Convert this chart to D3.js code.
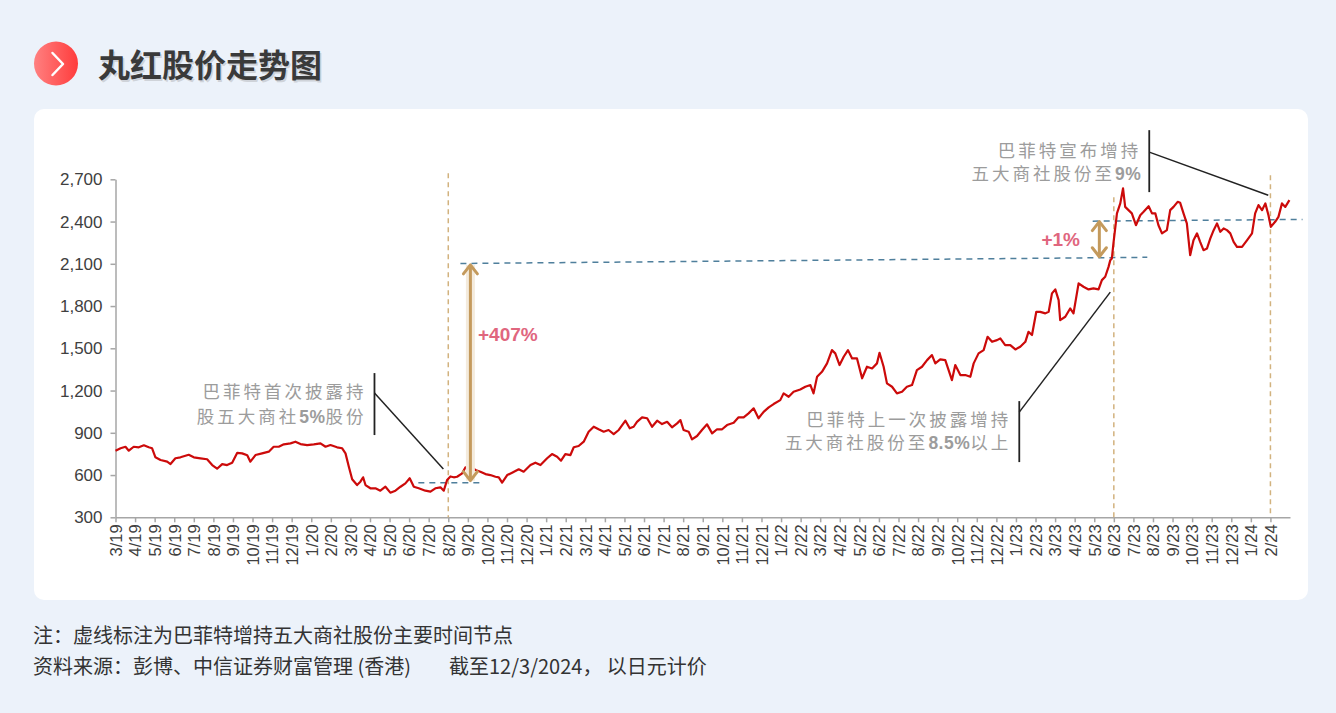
<!DOCTYPE html>
<html>
<head>
<meta charset="utf-8">
<script src="https://cdn.jsdelivr.net/npm/d3@7"></script>
<style>
  html, body { margin: 0; padding: 0; background: #ECF2FA; }
  svg { display: block; }
</style>
</head>
<body>
<svg id="chart" width="1336" height="713"></svg>
<script>
// month labels on the x axis (3/19 ... 2/24)
var monthLabels = ["3/19","4/19","5/19","6/19","7/19","8/19","9/19","10/19","11/19","12/19",
  "1/20","2/20","3/20","4/20","5/20","6/20","7/20","8/20","9/20","10/20","11/20","12/20",
  "1/21","2/21","3/21","4/21","5/21","6/21","7/21","8/21","9/21","10/21","11/21","12/21",
  "1/22","2/22","3/22","4/22","5/22","6/22","7/22","8/22","9/22","10/22","11/22","12/22",
  "1/23","2/23","3/23","4/23","5/23","6/23","7/23","8/23","9/23","10/23","11/23","12/23",
  "1/24","2/24"];

var yTicks = [300, 600, 900, 1200, 1500, 1800, 2100, 2400, 2700];

// months since 3/19
var monthPos = [0.00,0.26,0.51,0.68,0.93,1.19,1.45,1.70,1.87,2.04,2.30,2.64,2.81,3.06,3.32,3.74,4.00,4.34,4.68,4.94,
  5.19,5.45,5.70,5.96,6.22,6.47,6.73,6.89,7.15,7.49,7.83,8.08,8.34,8.60,8.94,9.19,9.45,9.79,10.13,10.47,
  10.73,10.98,11.32,11.58,11.75,11.92,12.09,12.34,12.51,12.65,12.77,13.02,13.28,13.53,13.79,14.04,14.30,14.56,14.81,15.03,
  15.24,15.49,15.83,16.09,16.34,16.60,16.77,16.94,17.11,17.28,17.45,17.71,17.88,18.13,18.39,18.64,18.90,19.15,19.41,19.58,
  19.75,20.01,20.26,20.60,20.85,21.20,21.45,21.71,22.05,22.30,22.56,22.76,22.98,23.24,23.41,23.66,23.92,24.17,24.43,24.68,
  24.94,25.19,25.45,25.71,26.05,26.27,26.47,26.64,26.90,27.16,27.41,27.67,27.92,28.18,28.43,28.69,28.86,29.02,29.28,29.45,
  29.71,29.96,30.22,30.48,30.73,30.99,31.24,31.58,31.83,32.09,32.34,32.60,32.85,33.11,33.37,33.62,33.96,34.13,34.39,34.64,
  34.98,35.24,35.50,35.66,35.84,36.09,36.35,36.60,36.77,36.99,37.20,37.42,37.63,37.88,38.14,38.39,38.65,38.90,39.03,39.24,
  39.41,39.67,39.92,40.18,40.43,40.69,40.94,41.20,41.46,41.71,41.88,42.13,42.39,42.56,42.73,42.90,43.16,43.41,43.67,43.84,
  44.09,44.35,44.55,44.78,45.03,45.20,45.45,45.71,45.97,46.22,46.48,46.64,46.82,47.04,47.24,47.50,47.67,47.84,48.01,48.18,
  48.26,48.52,48.77,48.94,49.20,49.45,49.71,49.96,50.22,50.39,50.56,50.73,50.82,50.90,50.98,51.16,51.33,51.47,51.58,51.75,
  51.92,52.13,52.35,52.52,52.78,52.95,53.12,53.28,53.46,53.71,53.88,54.05,54.26,54.39,54.56,54.73,54.90,55.07,55.25,55.41,
  55.58,55.76,55.93,56.10,56.27,56.44,56.61,56.78,56.95,57.12,57.29,57.55,57.81,58.06,58.22,58.39,58.57,58.74,58.90,59.02,
  59.24,59.41,59.59,59.76,59.97];

// Marubeni share price, yen
var price = [773,790,801,773,801,797,811,797,790,726,707,695,678,719,726,744,726,719,712,671,
  645,678,671,688,758,754,740,695,742,754,766,801,801,818,825,837,820,813,818,825,
  801,813,797,790,754,659,570,529,553,584,529,506,506,489,517,475,489,517,541,577,
  517,506,489,482,506,513,489,565,590,584,588,612,655,659,636,624,607,600,588,584,
  546,600,617,641,624,671,688,671,719,749,730,702,749,742,797,806,837,908,943,925,
  908,920,891,920,986,932,943,978,1010,1003,943,986,962,978,939,967,990,920,908,853,
  877,920,960,896,925,925,955,971,1010,1010,1038,1074,1003,1049,1081,1104,1132,1180,1156,1191,
  1208,1227,1239,1180,1298,1333,1393,1487,1464,1381,1440,1487,1428,1428,1287,1369,1357,1393,1468,1369,
  1251,1227,1180,1191,1227,1239,1345,1369,1416,1452,1393,1421,1416,1345,1274,1381,1310,1310,1298,1393,
  1464,1487,1582,1546,1558,1570,1523,1523,1492,1511,1546,1617,1594,1759,1759,1748,1759,1890,1918,1842,
  1700,1724,1783,1748,1961,1937,1918,1925,1918,1984,2008,2078,2126,2138,2245,2458,2529,2635,2504,2481,
  2458,2374,2445,2469,2509,2458,2458,2374,2316,2339,2481,2504,2540,2533,2458,2387,2161,2268,2316,2256,
  2197,2209,2280,2339,2387,2327,2351,2339,2316,2256,2220,2220,2268,2316,2458,2517,2481,2529,2445,2362,
  2398,2433,2529,2504,2552];

// Buffett disclosure dates (month index) and price levels of the reference lines
var eventMonths = [17, 51, 59];
var levelLines = [[15.47, 545, 18.74, 545], [17.62, 2102, 52.71, 2146], [49.92, 2403, 60.64, 2415]];
var gainLabels = ["+407%", "+1%"];

var svg = d3.select("#chart");

// page background + card
svg.append("rect").attr("width", 1336).attr("height", 713).attr("fill", "#ECF2FA");
svg.append("rect")
  .attr("x", 34).attr("y", 109).attr("width", 1274).attr("height", 491)
  .attr("rx", 10).attr("fill", "#ffffff");

// title with red badge
var defs = svg.append("defs");
var grad = defs.append("linearGradient").attr("id", "badge").attr("x1", "0%").attr("x2", "100%");
grad.append("stop").attr("offset", "0%").attr("stop-color", "#FF8080");
grad.append("stop").attr("offset", "100%").attr("stop-color", "#FF3C3C");
svg.append("circle").attr("cx", 56).attr("cy", 63.5).attr("r", 22).attr("fill", "url(#badge)");
svg.append("path")
  .attr("d", "M52.5,53 L63,64 L52.5,75")
  .attr("fill", "none").attr("stroke", "#fff").attr("stroke-width", 2.5)
  .attr("stroke-linecap", "round").attr("stroke-linejoin", "round");
svg.append("text")
  .attr("x", 99.5).attr("y", 78.5)
  .attr("font-family", "'Noto Sans CJK SC'").attr("font-weight", "bold").attr("font-size", 32)
  .attr("fill", "#cfd3d9").text("丸红股价走势图");
svg.append("text")
  .attr("x", 98).attr("y", 77)
  .attr("font-family", "'Noto Sans CJK SC'").attr("font-weight", "bold").attr("font-size", 32)
  .attr("fill", "#3a3a3a").text("丸红股价走势图");

// scales
var x = d3.scaleLinear().domain([0, 60]).range([115.5, 1290]);
var y = d3.scaleLinear().domain([300, 2700]).range([517.3, 179.3]);

// y axis
var yAxis = svg.append("g")
  .attr("transform", "translate(" + x(0) + ",0)")
  .call(d3.axisLeft(y).tickValues(yTicks).tickSize(5).tickSizeOuter(0).tickPadding(8).tickFormat(d3.format(",")));
yAxis.selectAll("text")
  .attr("font-family", "'Liberation Sans', Arial").attr("font-size", 17).attr("fill", "#404040");

// x axis
var xAxis = svg.append("g")
  .attr("transform", "translate(0," + y(300) + ")")
  .call(d3.axisBottom(x).tickValues(d3.range(monthLabels.length)).tickSize(5).tickSizeOuter(0)
    .tickFormat(function(d){ return monthLabels[d]; }));
xAxis.selectAll("text")
  .attr("font-family", "'Liberation Sans', Arial").attr("font-size", 16.5).attr("fill", "#404040")
  .attr("text-anchor", "end")
  .attr("transform", "translate(0,3) rotate(-90)")
  .attr("x", -4).attr("y", 0).attr("dy", "0.35em");
svg.selectAll(".domain, .tick line").attr("stroke", "#a6a6a6").attr("stroke-width", 1.5);

// vertical dashed lines at the disclosure dates
var eventTops = [2743, 2573, 2729];
svg.selectAll(".event")
  .data(eventMonths)
  .enter()
  .append("line")
  .attr("class", "event")
  .attr("x1", function(d){ return x(d); })
  .attr("x2", function(d){ return x(d); })
  .attr("y1", function(d, i){ return y(eventTops[i]); })
  .attr("y2", y(300))
  .attr("stroke", "#D2B27E").attr("stroke-width", 1.5).attr("stroke-dasharray", "5,4");

// horizontal dashed price levels
svg.selectAll(".level")
  .data(levelLines)
  .enter()
  .append("line")
  .attr("class", "level")
  .attr("x1", function(d){ return x(d[0]); })
  .attr("y1", function(d){ return y(d[1]); })
  .attr("x2", function(d){ return x(d[2]); })
  .attr("y2", function(d){ return y(d[3]); })
  .attr("stroke", "#4F7F9C").attr("stroke-width", 1.5).attr("stroke-dasharray", "6,5");

// price line
var line = d3.line()
  .x(function(d, i){ return x(monthPos[i]); })
  .y(function(d){ return y(d); });
svg.append("path")
  .datum(price)
  .attr("d", line)
  .attr("fill", "none").attr("stroke", "#CC0A0A").attr("stroke-width", 2.2)
  .attr("stroke-linejoin", "round");

// double headed gain arrows
var arrows = [
  { m: 18.13, top: 2092, bottom: 560, label: gainLabels[0], lx: 478, ly: 334, anchor: "start" },
  { m: 50.26, top: 2400, bottom: 2150, label: gainLabels[1], lx: 1080, ly: 239, anchor: "end" }
];
arrows.forEach(function(a){
  var ax = x(a.m), y1 = y(a.top), y2 = y(a.bottom);
  if (a.m < 30) {
    svg.append("line").attr("x1", ax).attr("x2", ax).attr("y1", y1).attr("y2", y2)
      .attr("stroke", "#F4EBDD").attr("stroke-width", 9);
  }
  svg.append("line").attr("x1", ax).attr("x2", ax).attr("y1", y1 + 1).attr("y2", y2 - 1)
    .attr("stroke", "#C49A5C").attr("stroke-width", 3);
  svg.append("path")
    .attr("d", "M" + (ax - 7) + "," + (y1 + 9) + " L" + ax + "," + y1 + " L" + (ax + 7) + "," + (y1 + 9)
      + " M" + (ax - 7) + "," + (y2 - 9) + " L" + ax + "," + y2 + " L" + (ax + 7) + "," + (y2 - 9))
    .attr("fill", "none").attr("stroke", "#C49A5C").attr("stroke-width", 3)
    .attr("stroke-linecap", "round").attr("stroke-linejoin", "round");
  svg.append("text")
    .attr("x", a.lx).attr("y", a.ly).attr("dy", "0.35em").attr("text-anchor", a.anchor)
    .attr("font-family", "'Liberation Sans', Arial").attr("font-weight", "bold").attr("font-size", 19)
    .attr("fill", "#E0667E").text(a.label);
});

// callouts: bar + leader + grey text
var notes = [
  { bm: 13.23, btop: 1324, bbot: 884, ly: 1182, tm: 16.75, tv: 643, dy: [19, 44],
    lines: [["巴菲特首次披露持"], ["股五大商社", "5%", "股份"]] },
  { bm: 46.17, btop: 1125, bbot: 692, ly: 1047, tm: 50.82, tv: 1899, dy: [19, 42],
    lines: [["巴菲特上一次披露增持"], ["五大商社股份至", "8.5%", "以上"]] },
  { bm: 52.81, btop: 3049, bbot: 2609, ly: 2893, tm: 58.89, tv: 2587, dy: [21, 44],
    lines: [["巴菲特宣布增持"], ["五大商社股份至", "9%"]] }
];
notes.forEach(function(n){
  var bx = x(n.bm);
  svg.append("line").attr("x1", bx).attr("x2", bx).attr("y1", y(n.btop)).attr("y2", y(n.bbot))
    .attr("stroke", "#222").attr("stroke-width", 1.8);
  svg.append("line").attr("x1", bx).attr("y1", y(n.ly)).attr("x2", x(n.tm)).attr("y2", y(n.tv))
    .attr("stroke", "#222").attr("stroke-width", 1.5);
  n.lines.forEach(function(parts, j){
    var t = svg.append("text")
      .attr("x", bx - 8).attr("y", y(n.btop) + n.dy[j]).attr("dy", "0.35em")
      .attr("text-anchor", "end")
      .attr("font-family", "'Noto Sans CJK SC'").attr("font-size", 17.5)
      .attr("letter-spacing", 3).attr("fill", "#9C9C9C");
    parts.forEach(function(p, k){
      var s = t.append("tspan").text(p);
      if (k == 1) s.attr("font-family", "'Liberation Sans', Arial").attr("font-weight", "bold").attr("letter-spacing", 0.5);
    });
  });
});

// footnotes
var foot = svg.append("g")
  .attr("font-family", "'Noto Sans CJK SC'").attr("font-size", 20).attr("fill", "#333");
foot.append("text").attr("x", 33).attr("y", 643).text("注：虚线标注为巴菲特增持五大商社股份主要时间节点");
foot.append("text").attr("x", 33).attr("y", 674).text("资料来源：彭博、中信证券财富管理 (香港)");
foot.append("text").attr("x", 449).attr("y", 674).text("截至12/3/2024， 以日元计价");
</script>
</body>
</html>
